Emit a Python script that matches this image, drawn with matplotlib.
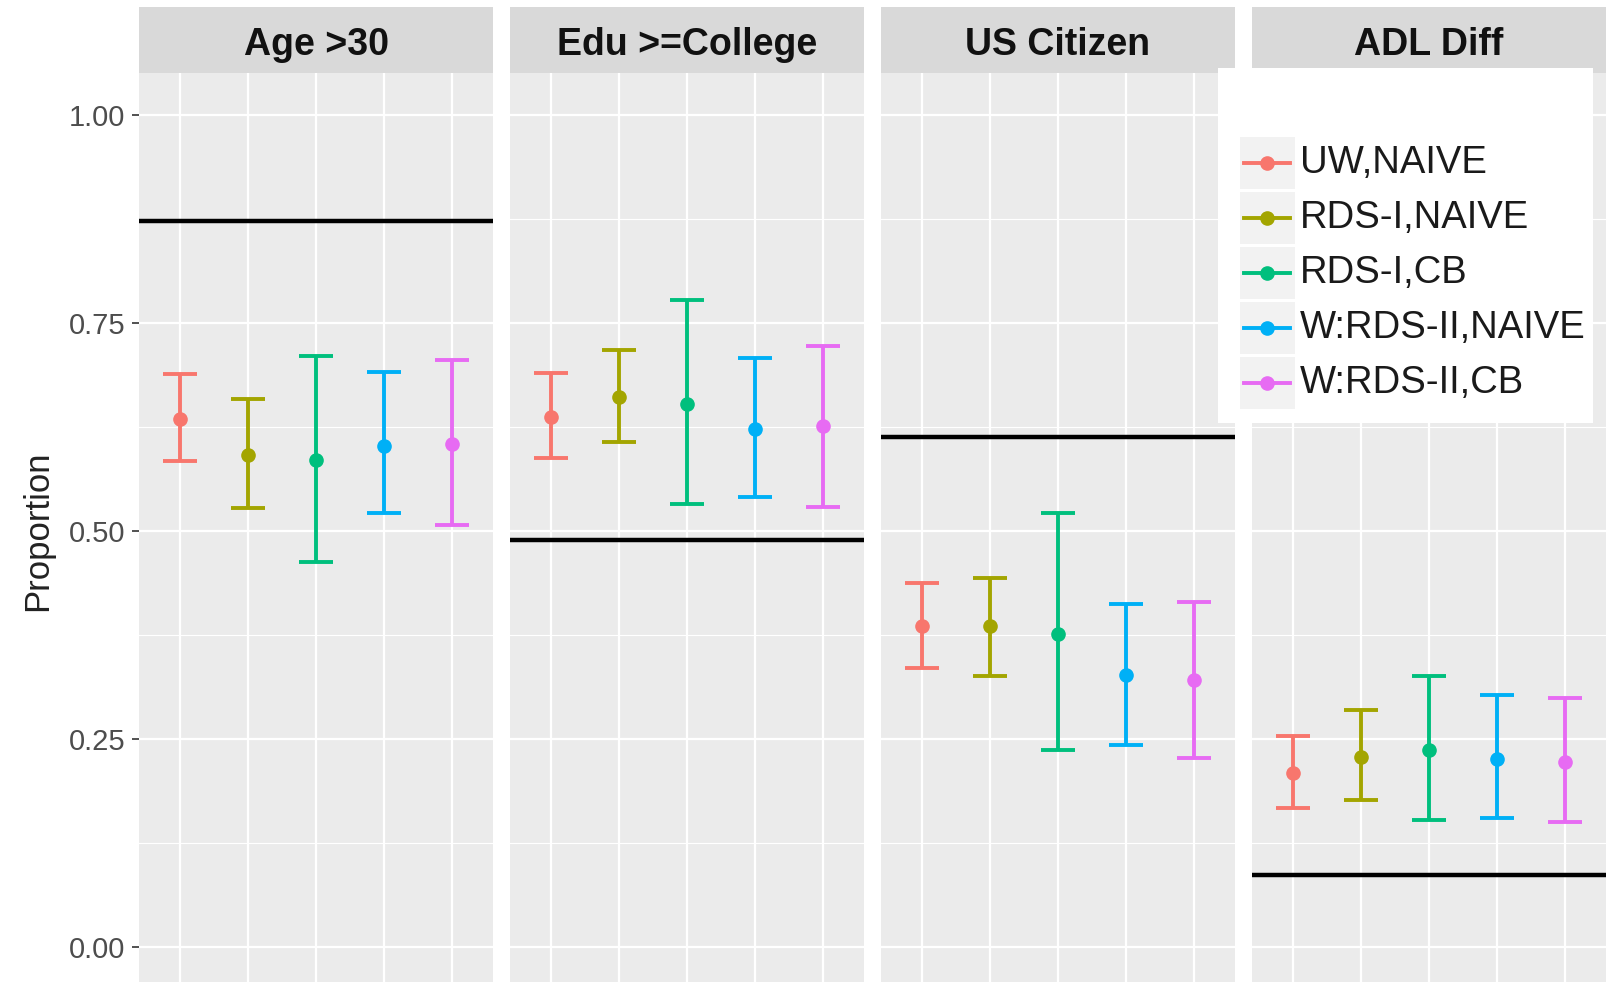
import numpy as np
import matplotlib
matplotlib.use('Agg')
import matplotlib.pyplot as plt
from matplotlib.patches import Rectangle
from matplotlib.lines import Line2D

plt.rcParams['font.family'] = ['Liberation Sans', 'DejaVu Sans']

panels = ['Age >30', 'Edu >=College', 'US Citizen', 'ADL Diff']
methods = ['UW,NAIVE', 'RDS-I,NAIVE', 'RDS-I,CB', 'W:RDS-II,NAIVE', 'W:RDS-II,CB']
colors = ['#F8766D', '#A3A500', '#00BF7D', '#00B0F6', '#E76BF3']

# point estimates, rows = panels, cols = methods
est = np.array([[0.634, 0.591, 0.585, 0.602, 0.605],
                [0.637, 0.661, 0.652, 0.622, 0.626],
                [0.385, 0.385, 0.376, 0.327, 0.321],
                [0.209, 0.228, 0.237, 0.226, 0.222]])
lower = np.array([[0.584, 0.527, 0.463, 0.521, 0.507],
                  [0.587, 0.607, 0.532, 0.541, 0.529],
                  [0.335, 0.325, 0.237, 0.242, 0.227],
                  [0.167, 0.176, 0.152, 0.155, 0.150]])
upper = np.array([[0.688, 0.659, 0.710, 0.691, 0.706],
                  [0.690, 0.717, 0.777, 0.708, 0.722],
                  [0.437, 0.443, 0.521, 0.412, 0.414],
                  [0.253, 0.285, 0.325, 0.303, 0.299]])
# population values
truth = [0.872, 0.489, 0.613, 0.086]

W, H = 1610, 982
fig = plt.figure(figsize=(W / 100, H / 100), dpi=100)

ax_top = 73.4
ax_h = 914.9
ax_w = 354
lefts = [139, 510, 881, 1252]
strip_h = 66

x = np.arange(1, 6)
for i, name in enumerate(panels):
    ax = fig.add_axes([lefts[i] / W, 1 - (ax_top + ax_h) / H, ax_w / W, ax_h / H])
    ax.set_facecolor('#EBEBEB')
    ax.set_xlim(0.4, 5.6)
    ax.set_ylim(-0.05, 1.05)
    for s in ax.spines.values():
        s.set_visible(False)

    ax.set_yticks([0, 0.25, 0.5, 0.75, 1.0])
    ax.set_yticks([0.125, 0.375, 0.625, 0.875], minor=True)
    ax.set_xticks(x)
    ax.grid(which='major', color='white', lw=1.6)
    ax.grid(which='minor', axis='y', color='white', lw=0.8)
    ax.set_axisbelow(True)
    ax.tick_params(axis='x', length=0, labelbottom=False)
    ax.tick_params(axis='y', which='minor', length=0)
    if i == 0:
        ax.set_yticklabels(['0.00', '0.25', '0.50', '0.75', '1.00'])
        ax.tick_params(axis='y', which='major', length=5, width=1.2, color='#333333',
                       labelsize=21, labelcolor='#4D4D4D', pad=5)
        ax.set_ylabel('Proportion', fontsize=25, color='#222222', labelpad=10)
    else:
        ax.tick_params(axis='y', which='major', length=0, labelleft=False)

    ax.axhline(truth[i], color='black', lw=3.2, zorder=2)

    for j in range(5):
        c = colors[j]
        ax.vlines(x[j], lower[i, j], upper[i, j], color=c, lw=2.8, zorder=3)
        ax.hlines([lower[i, j], upper[i, j]], x[j] - 0.25, x[j] + 0.25, color=c, lw=2.8, zorder=3)
        ax.plot(x[j], est[i, j], 'o', color=c, ms=9.5, zorder=4)

    # facet strip
    ax.add_patch(Rectangle((0, 1), 1, strip_h / ax_h, transform=ax.transAxes,
                           facecolor='#D9D9D9', edgecolor='none', clip_on=False))
    ax.text(0.5, 1 + (strip_h / 2 - 5) / ax_h, name, transform=ax.transAxes,
            ha='center', va='center', fontsize=27, fontweight='bold', color='#111111')

# legend box drawn in pixel coords
def fx(px):
    return px / W

def fy(py):
    return 1 - py / H

fig.patches.append(Rectangle((fx(1218), fy(423)), fx(1593) - fx(1218), fy(68) - fy(423),
                             transform=fig.transFigure, facecolor='white', edgecolor='none', zorder=5))
row0 = 163
row_gap = 55
for j, m in enumerate(methods):
    yc = row0 + j * row_gap
    fig.patches.append(Rectangle((fx(1240), fy(yc + 26)), fx(55), 52 / H,
                                 transform=fig.transFigure, facecolor='#F2F2F2',
                                 edgecolor='none', zorder=6))
    fig.lines.append(Line2D([fx(1244), fx(1290)], [fy(yc), fy(yc)], transform=fig.transFigure,
                            color=colors[j], lw=2.8, zorder=7))
    fig.lines.append(Line2D([fx(1267)], [fy(yc)], transform=fig.transFigure, marker='o',
                            color=colors[j], ms=9.5, zorder=8))
    fig.text(fx(1300), fy(yc), m, ha='left', va='center', fontsize=27.5, color='#1A1A1A', zorder=9)

fig.savefig('out.png', dpi=100)
